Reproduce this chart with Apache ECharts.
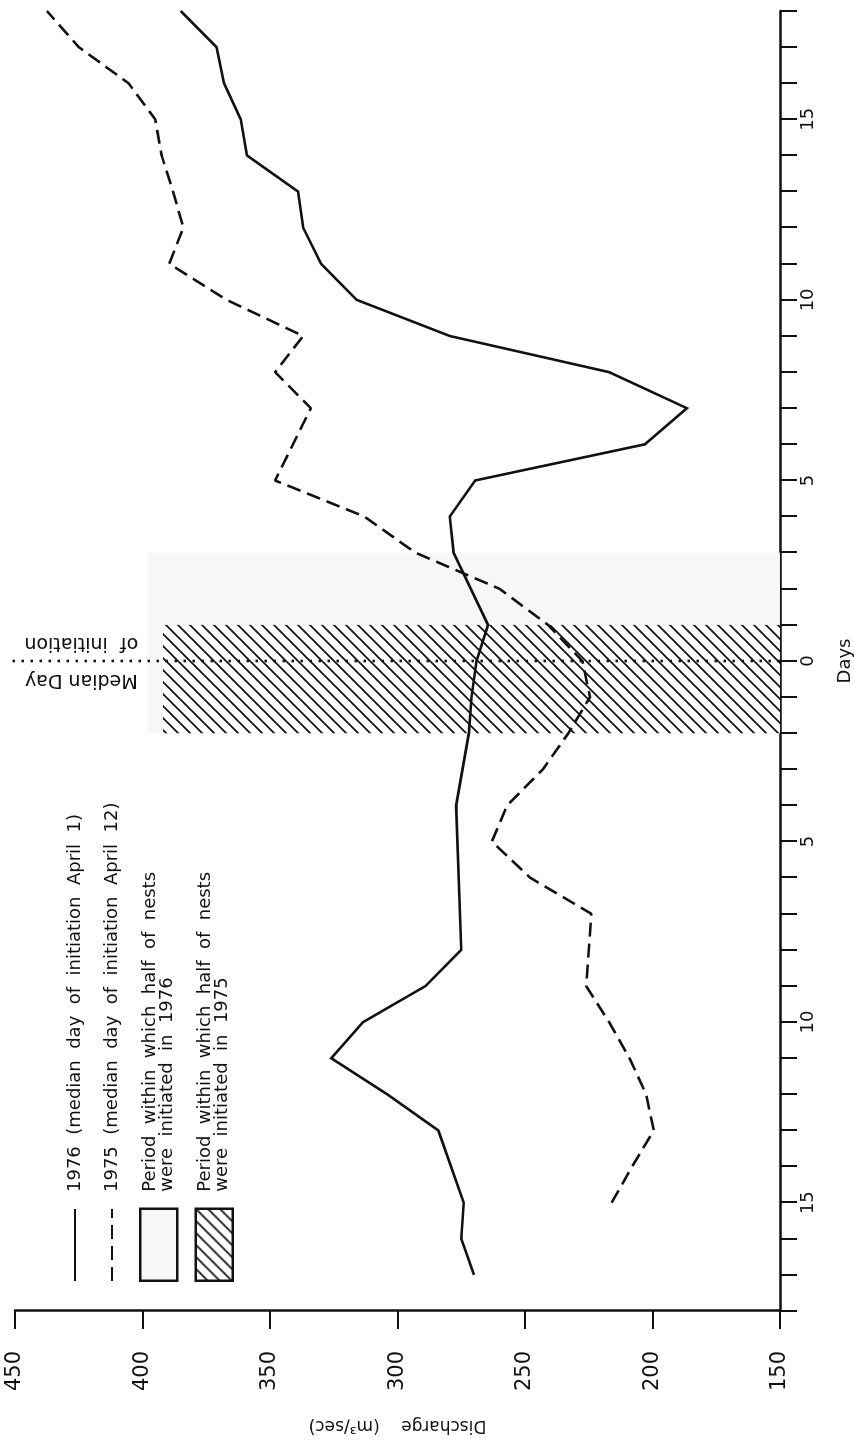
<!DOCTYPE html>
<html><head><meta charset="utf-8">
<script src="https://cdn.jsdelivr.net/npm/echarts@6/dist/echarts.min.js"></script>
<style>
html,body{margin:0;padding:0;width:854px;height:1443px;overflow:hidden;background:#fff;}
#chart{position:absolute;left:0;top:0;width:1443px;height:854px;transform-origin:0 0;transform:translate(0,1443px) rotate(-90deg);background:#fff;}
</style></head><body><div id="chart"></div>
<script>
// ---- data ----
const days1976 = [-17,-16,-15,-13,-12,-11,-10,-9,-8,-4,-2,-1,0,1,3,4,5,6,7,8,9,10,11,12,13,14,15,16,17,18];
const discharge1976 = [270,275,274,284,304,326,313.5,289,275,277,272,271,269,264.5,278,279.5,269.5,203,186.5,217,279.5,316,330,337,339,359,361.5,368,371,385];
const days1975 = [-15,-14,-13,-12,-11,-10,-9,-7,-6,-5,-4,-3,-2,-1,0,1,2,3,4,5,7,8,9,10,11,12,13,14,15,16,17,18];
const discharge1975 = [216,208,199.5,202.5,209,217,226,224,248,263,257,243,233,224.5,227.5,241,260,293,313,348,334,348,337,367,389.5,384,388,392.5,395,405.5,425,437.5];
const dayRange = [-18, 18];
const dayLabelValues = [-15,-10,-5,0,5,10,15];
const dischargeRange = [150, 450];
const dischargeStep = 50;
const period1976 = [-2, 3];   // days
const period1975 = [-2, 1];   // days
const periodTop1976 = 398, periodTop1975 = 392; // discharge level where shading starts
const medianDay = 0;
const medianLineTop = 451;

const names = [
  '1976  (median  day  of  initiation  April  1)',
  '1975  (median  day  of  initiation  April  12)',
  'Period  within  which  half  of  nests\nwere  initiated  in  1976',
  'Period  within  which  half  of  nests\nwere  initiated  in  1975'
];

const FONT = '"DejaVu Sans", sans-serif';
const INK = '#111';
const BAND = '#f7f7f7';

function hatchPattern(){
  const s = 12;
  const c = document.createElement('canvas');
  c.width = s; c.height = s;
  const g = c.getContext('2d');
  g.fillStyle = '#fff'; g.fillRect(0,0,s,s);
  g.strokeStyle = INK; g.lineWidth = 1.7;
  g.beginPath();
  g.moveTo(0, s); g.lineTo(s, 0);
  g.moveTo(-2, 2); g.lineTo(2, -2);
  g.moveTo(s-2, s+2); g.lineTo(s+2, s-2);
  g.stroke();
  return {image: c, repeat: 'repeat'};
}
const hatch = hatchPattern();
const pair = (d, v) => d.map((x, i) => [x, v[i]]);

const chart = echarts.init(document.getElementById('chart'), null, {renderer:'canvas'});
chart.setOption({
  animation: false,
  backgroundColor: '#fff',
  grid: {left:132, right:11, top:15, bottom:74, containLabel:false, outerBoundsMode:'none'},
  xAxis: {
    type:'value', min:dayRange[0], max:dayRange[1], interval:1,
    axisLine:{show:true, onZero:false, lineStyle:{color:INK, width:2.5}},
    axisTick:{show:true, length:17, lineStyle:{color:INK, width:2}},
    splitLine:{show:false},
    axisLabel:{margin:19, fontSize:18, fontFamily:FONT, color:INK,
      formatter: v => dayLabelValues.includes(v) ? String(Math.abs(v)) : ''},
    name:'Days', nameLocation:'middle', nameGap:56,
    nameTextStyle:{fontSize:18, fontFamily:FONT, color:INK}
  },
  yAxis: {
    type:'value', min:dischargeRange[0], max:dischargeRange[1], interval:dischargeStep,
    axisLine:{show:true, onZero:false, lineStyle:{color:INK, width:2.5}},
    axisTick:{show:true, length:18, lineStyle:{color:INK, width:2}},
    splitLine:{show:false},
    axisLabel:{margin:40, fontSize:21, fontFamily:FONT, color:INK},
    name:'Discharge    (m³/sec)', nameLocation:'middle', nameGap:106,
    nameTextStyle:{fontSize:17, fontFamily:FONT, color:INK}
  },
  legend: [
    {orient:'vertical', left:161, top:66, padding:0, itemWidth:72, itemHeight:18, itemGap:19,
     selectedMode:false, data:[names[0], names[1]], itemStyle:{opacity:0},
     textStyle:{fontSize:18, fontFamily:FONT, color:INK, padding:[0,0,0,12]}},
    {orient:'vertical', left:161, top:139, padding:0, itemWidth:72, itemHeight:37, itemGap:16,
     selectedMode:false,
     data:[
       {name:names[2], icon:'rect', itemStyle:{color:BAND, borderColor:INK, borderWidth:2.5, opacity:1}},
       {name:names[3], icon:'rect', itemStyle:{color:hatch, borderColor:INK, borderWidth:2.5, opacity:1}}
     ],
     textStyle:{fontSize:18, lineHeight:17, fontFamily:FONT, color:INK, padding:[0,0,0,12]}}
  ],
  series: [
    {name:names[2], type:'line', data:[], z:1, silent:true,
     markArea:{silent:true, itemStyle:{color:BAND},
       data:[[{coord:[period1976[0], periodTop1976]}, {coord:[period1976[1], dischargeRange[0]]}]]}},
    {name:names[3], type:'line', data:[], z:2, silent:true,
     markArea:{silent:true, itemStyle:{color:hatch},
       data:[[{coord:[period1975[0], periodTop1975]}, {coord:[period1975[1], dischargeRange[0]]}]]}},
    {name:names[0], type:'line', data:pair(days1976, discharge1976), z:5,
     symbol:'none', showSymbol:false, color:INK,
     lineStyle:{color:INK, width:2.6, join:'miter'}},
    {name:names[1], type:'line', data:pair(days1975, discharge1975), z:5,
     symbol:'none', showSymbol:false, color:INK,
     lineStyle:{color:INK, width:2.6, type:[14,7]}},
    {name:'median', type:'line', z:6, silent:true, symbol:'none', showSymbol:false, clip:false,
     data:[[medianDay, medianLineTop], [medianDay, dischargeRange[0]]],
     lineStyle:{color:INK, width:2.6, type:[2.6,6.4]}}
  ]
});
const p = chart.convertToPixel({gridIndex:0}, [medianDay, 424]);
chart.setOption({graphic:[{type:'text', x:p[0], y:p[1], rotation:Math.PI/2, z:10,
  style:{text:'Median Day\nof  initiation', font:'19px "DejaVu Sans"', fill:INK,
    align:'center', verticalAlign:'middle', lineHeight:37}}]});
</script>
</body></html>
